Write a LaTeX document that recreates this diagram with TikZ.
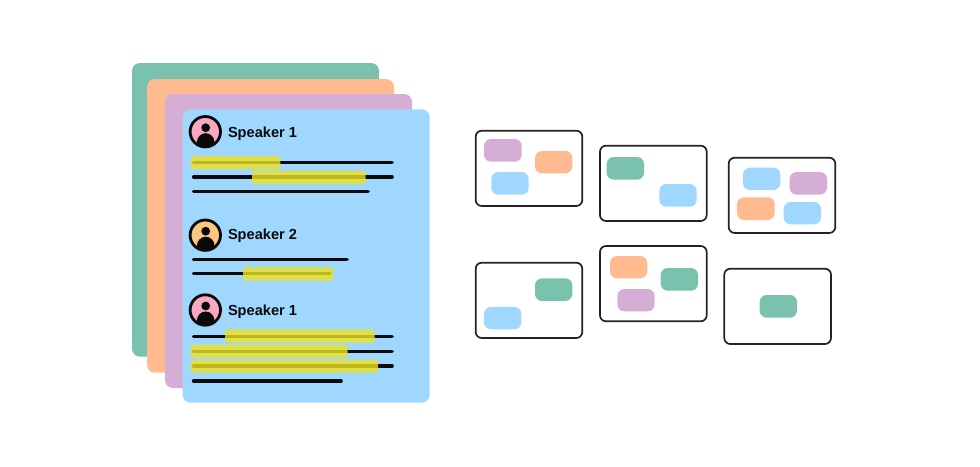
\documentclass[tikz,border=0pt]{standalone}
\usepackage{fontspec}
\setmainfont{Liberation Sans}
\definecolor{sheetgreen}{HTML}{7AC2AD}
\definecolor{sheetorange}{HTML}{FFBB8F}
\definecolor{sheetpurple}{HTML}{D5AED6}
\definecolor{sheetblue}{HTML}{A0D7FF}
\definecolor{facepink}{HTML}{F9A8C0}
\definecolor{faceamber}{HTML}{FBC77E}
\definecolor{marker}{HTML}{EDE21E}
\definecolor{ink}{HTML}{0A0A0A}
\tikzset{
  sheet/.style={rounded corners=8pt},
  textline/.style={draw=ink,line width=3.2pt,line cap=round},
  highlight/.style={fill=marker,fill opacity=.8,rounded corners=3pt},
  frame/.style={draw=ink!90,line width=1.7pt,fill=white,rounded corners=6pt},
  tile/.style={rounded corners=7pt},
  speaker/.style={anchor=base west,inner sep=0pt,font=\fontsize{14.6}{16}\selectfont\bfseries,text=ink},
}
% avatar{x}{y}{face colour}
\newcommand{\avatar}[3]{%
  \begin{scope}
    \clip (#1,#2) circle (15.5pt);
    \fill[#3] (#1,#2) circle (15.5pt);
    \fill[ink] (#1+.4,#2-4) circle (4.4pt);
    \fill[ink] (#1+.4,#2+10.7) ellipse (8.8pt and 9.2pt);
  \end{scope}
  \draw[ink,line width=2.8pt] (#1,#2) circle (15.2pt);
}
\begin{document}
\begin{tikzpicture}[x=1pt,y=-1pt]
\useasboundingbox (0,0) rectangle (980,466);
% stacked transcript sheets
\fill[sheet,sheetgreen] (132,63) rectangle (379,356.7);
\fill[sheet,sheetorange] (147,79) rectangle (394,372.7);
\fill[sheet,sheetpurple] (165,94) rectangle (412,388);
\fill[sheet,sheetblue] (182.7,109.3) rectangle (429.7,402.7);
% first turn
\avatar{205.3}{131.7}{facepink}
\node[speaker] (turnA) at (227.8,137.3) {Speaker 1};
\draw[textline] (193.5,162.3) -- (392.2,162.3);
\draw[textline] (193.5,177) -- (392.2,177);
\draw[textline] (193.5,191.7) -- (368.2,191.7);
\fill[highlight] (190.7,156) rectangle (280.3,169);
\fill[highlight] (252,170.7) rectangle (365.7,184);
% second turn
\avatar{205.3}{235.2}{faceamber}
\node[speaker] (turnB) at (227.8,239.3) {Speaker 2};
\draw[textline] (193.5,259.7) -- (347.2,259.7);
\draw[textline] (193.5,273.7) -- (330,273.7);
\fill[highlight] (243,267) rectangle (333.3,280.7);
% third turn
\avatar{205.3}{310}{facepink}
\node[speaker] (turnC) at (227.8,315.6) {Speaker 1};
\draw[textline] (193.5,336.3) -- (392.2,336.3);
\draw[textline] (193.5,351.3) -- (392.2,351.3);
\draw[textline] (193.5,366) -- (392.2,366);
\draw[textline] (193.5,381) -- (341.2,381);
\fill[highlight] (225,329.3) rectangle (374.7,342.7);
\fill[highlight] (190.7,344.7) rectangle (347.7,357.7);
\fill[highlight] (190.7,359.7) rectangle (378,372.7);
% clusters, top row
\draw[frame] (475.7,130.7) rectangle (582.3,206);
\fill[tile,sheetpurple] (484,139) rectangle (521.7,161.7);
\fill[tile,sheetorange] (535,151) rectangle (572.3,173.3);
\fill[tile,sheetblue] (491.3,172) rectangle (528.7,194.7);
\draw[frame] (600,145.7) rectangle (706.7,221);
\fill[tile,sheetgreen] (606.7,157) rectangle (644,179.7);
\fill[tile,sheetblue] (659.3,184) rectangle (696.7,206.7);
\draw[frame] (728.7,157.7) rectangle (835.3,233);
\fill[tile,sheetblue] (743,167.7) rectangle (780.3,190);
\fill[tile,sheetpurple] (789.7,172) rectangle (827,194.7);
\fill[tile,sheetorange] (737,197.3) rectangle (774.7,220);
\fill[tile,sheetblue] (783.7,202) rectangle (821,224.3);
% clusters, bottom row
\draw[frame] (475.7,262.7) rectangle (582.3,338);
\fill[tile,sheetgreen] (535,278.3) rectangle (572.3,301);
\fill[tile,sheetblue] (484,307) rectangle (521.3,329.3);
\draw[frame] (600,246) rectangle (706.7,321.3);
\fill[tile,sheetorange] (610,256) rectangle (647.3,278.3);
\fill[tile,sheetgreen] (660.7,268) rectangle (698,290.7);
\fill[tile,sheetpurple] (617.3,289) rectangle (654.7,311.3);
\draw[frame] (724.3,268.7) rectangle (831,344);
\fill[tile,sheetgreen] (759.7,295) rectangle (797,317.7);
\end{tikzpicture}
\end{document}
